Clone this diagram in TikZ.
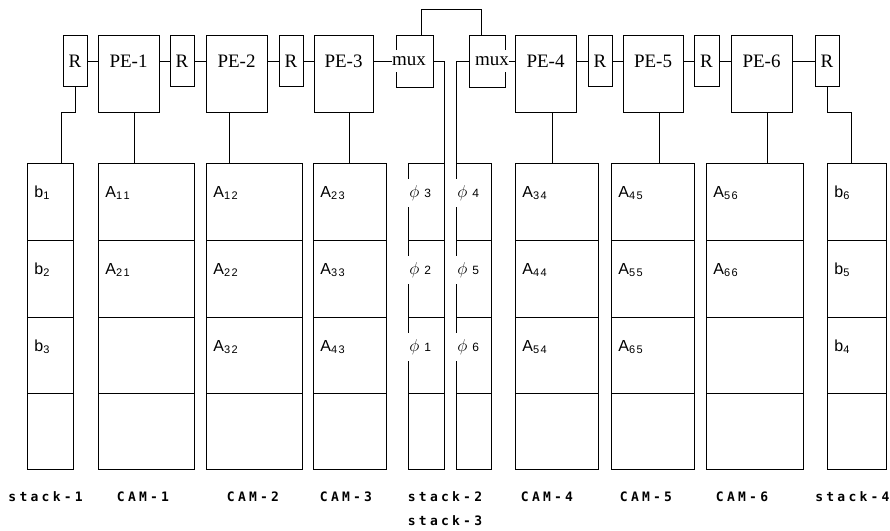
\documentclass[tikz,border=0pt]{standalone}
\usepackage{fontspec}
\newfontfamily\topfont{Liberation Serif}
\newfontfamily\cellfont{Liberation Sans}
\newfontfamily\botfont[LetterSpace=25]{DejaVu Sans Mono}
\newcommand\sbs[1]{\raisebox{-2pt}{\fontsize{11}{11}\selectfont #1}}
\newcommand\phl[1]{{\fontsize{18}{18}\selectfont$\phi$}\hspace{5pt}{\fontsize{12}{12}\selectfont #1}}
\begin{document}
\begin{tikzpicture}[x=1pt,y=-1pt,line width=0.9pt,
  blk/.style={draw,anchor=north west,inner sep=0,outer sep=0},
  ttl/.style={font=\topfont\fontsize{19}{19}\selectfont,inner sep=0},
  mxl/.style={font=\topfont\fontsize{19}{19}\selectfont,inner xsep=0,inner ysep=6pt,fill=white},
  cell/.style={font=\cellfont\fontsize{16}{16}\selectfont,anchor=west,inner sep=0},
  phil/.style={font=\cellfont\fontsize{16}{16}\selectfont,anchor=west,inner xsep=1pt,inner ysep=6pt,fill=white},
  capt/.style={font=\botfont\bfseries\fontsize{13}{13}\selectfont,inner sep=0}]
\fill[white] (0,0) rectangle (890,530);
\useasboundingbox (0,0) rectangle (890,530);
% top row boxes
\foreach \n/\a/\b/\c in {r0/63/87/86, pe1/98/159/112, r1/170/194/86, pe2/206/267/112,
  r2/279/303/86, pe3/314/373/112, mux1/396/433/87, mux2/469/505/87, pe4/515/576/112,
  r4/588/612/86, pe5/623/683/112, r5/694/719/86, pe6/731/792/112, r6/815/839/86}{
  \pgfmathsetmacro\w{\b-\a}\pgfmathsetmacro\h{\c-35}
  \node[blk,minimum width=\w pt,minimum height=\h pt] (\n) at (\a,35) {};
}
\coordinate (yl) at (0,61);
% titles
\foreach \n/\t in {r0/R, pe1/PE-1, r1/R, pe2/PE-2, r2/R, pe3/PE-3, pe4/PE-4, r4/R, pe5/PE-5, r5/R, pe6/PE-6, r6/R}{
  \node[ttl] (t-\n) at (\n.north |- yl) {\t};
}
% chain wires
\foreach \p/\q in {r0/pe1, pe1/r1, r1/pe2, pe2/r2, r2/pe3, pe4/r4, r4/pe5, pe5/r5, r5/pe6, pe6/r6}{
  \draw (\p.east |- yl) -- (\q.west |- yl);
}
% cells
\foreach \n/\a/\b in {s1/27/73, c1/98/194, c2/206/302, c3/313/386, s2/408/444, s3/456/491,
  c4/515/598, c5/611/694, c6/706/803, s4/827/886}{
  \foreach \r/\t/\u in {1/163/240, 2/240/317, 3/317/393, 4/393/469}{
    \pgfmathsetmacro\w{\b-\a}\pgfmathsetmacro\h{\u-\t}
    \node[blk,minimum width=\w pt,minimum height=\h pt] (\n-\r) at (\a,\t) {};
  }
}
% tap coordinates
\coordinate (x0) at (61,0);
\coordinate (x1) at (134,0);
\coordinate (x2) at (229,0);
\coordinate (x3) at (349,0);
\coordinate (x4) at (552,0);
\coordinate (x5) at (659,0);
\coordinate (x6) at (767,0);
\coordinate (x7) at (851,0);
\coordinate (ya) at (0,112);
\coordinate (mx1) at (421,0);
\coordinate (mx2) at (481,0);
\coordinate (ytop) at (0,9);
\coordinate (xs2) at (444,0);
\coordinate (xs3) at (456,0);
% PE to CAM
\draw (pe1.south -| x1) -- (x1 |- c1-1.north);
\draw (pe2.south -| x2) -- (x2 |- c2-1.north);
\draw (pe3.south -| x3) -- (x3 |- c3-1.north);
\draw (pe4.south -| x4) -- (x4 |- c4-1.north);
\draw (pe5.south -| x5) -- (x5 |- c5-1.north);
\draw (pe6.south -| x6) -- (x6 |- c6-1.north);
% R to stacks
\draw (r0.south) -- (r0.south |- ya) -| (x0 |- s1-1.north);
\draw (r6.south) -- (r6.south |- ya) -| (x7 |- s4-1.north);
% mux wiring
\draw (pe3.east |- yl) -- (mux1.west |- yl);
\draw (mux2.east |- yl) -- (pe4.west |- yl);
\draw (mux1.north -| mx1) -- (mx1 |- ytop) -- (mx2 |- ytop) -- (mux2.north -| mx2);
\draw (mux1.east |- yl) -- (xs2 |- yl) -- (xs2 |- s2-4.south);
\draw (mux2.west |- yl) -- (xs3 |- yl) -- (xs3 |- s3-4.south);
\node[mxl] (m1l) at (409,61) {mux};
\node[mxl] (m2l) at (492,61) {mux};
% cell labels
\foreach \n/\r/\t in {s1/1/b\sbs{1}, s1/2/b\sbs{2}, s1/3/b\sbs{3},
  c1/1/A\sbs{1\kern1.5pt1}, c1/2/A\sbs{2\kern1.5pt1},
  c2/1/A\sbs{1\kern1.5pt2}, c2/2/A\sbs{2\kern1.5pt2}, c2/3/A\sbs{3\kern1.5pt2},
  c3/1/A\sbs{2\kern1.5pt3}, c3/2/A\sbs{3\kern1.5pt3}, c3/3/A\sbs{4\kern1.5pt3},
  c4/1/A\sbs{3\kern1.5pt4}, c4/2/A\sbs{4\kern1.5pt4}, c4/3/A\sbs{5\kern1.5pt4},
  c5/1/A\sbs{4\kern1.5pt5}, c5/2/A\sbs{5\kern1.5pt5}, c5/3/A\sbs{6\kern1.5pt5},
  c6/1/A\sbs{5\kern1.5pt6}, c6/2/A\sbs{6\kern1.5pt6},
  s4/1/b\sbs{6}, s4/2/b\sbs{5}, s4/3/b\sbs{4}}{
  \node[cell] (lab-\n-\r) at ([shift={(7,30)}]\n-\r.north west) {\t};
}
\foreach \n/\r/\t in {s2/1/3, s2/2/2, s2/3/1, s3/1/4, s3/2/5, s3/3/6}{
  \node[phil] (lab-\n-\r) at ([shift={(0,30)}]\n-\r.north west) {\phl{\t}};
}
% captions
\node[capt,anchor=west] (k1) at (8,497) {stack-1};
\node[capt] (k2) at (143,497) {CAM-1};
\node[capt] (k3) at (253,497) {CAM-2};
\node[capt] (k4) at (346,497) {CAM-3};
\node[capt] (k5) at (445,497) {stack-2};
\node[capt] (k6) at (445,521) {stack-3};
\node[capt] (k7) at (547,497) {CAM-4};
\node[capt] (k8) at (646,497) {CAM-5};
\node[capt] (k9) at (742,497) {CAM-6};
\node[capt,anchor=east] (k10) at (890,497) {stack-4};
\end{tikzpicture}
\end{document}
